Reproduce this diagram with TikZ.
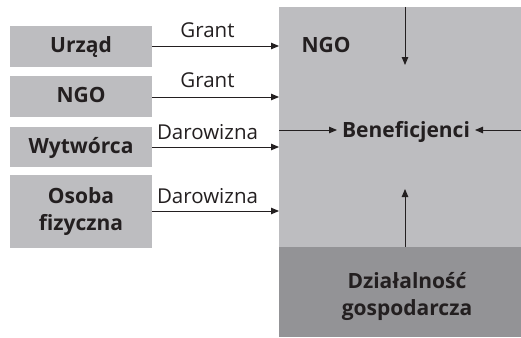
\documentclass[tikz,border=0pt]{standalone}
\usepackage{fontspec}
\setmainfont{Open Sans}
\usetikzlibrary{arrows.meta}
\definecolor{lg}{RGB}{189,189,192}
\definecolor{dg}{RGB}{147,147,150}
\definecolor{tx}{RGB}{35,31,32}
\begin{document}
\begin{tikzpicture}[x=1pt,y=-1pt,
  box/.style={fill=lg,draw=none,inner sep=0pt,minimum width=142},
  bt/.style={text=tx,font=\fontsize{21}{27}\selectfont\bfseries,align=center,inner sep=0pt,anchor=base},
  lbl/.style={text=tx,font=\fontsize{20.5}{24}\selectfont,inner sep=0pt,anchor=base},
  arr/.style={draw=tx,line width=0.9pt,-{Triangle[length=8pt,width=6.5pt]}}]
\useasboundingbox (0,0) rectangle (521,337);
% big areas
\fill[lg] (279,7) rectangle (521,247);
\fill[dg] (279,247) rectangle (521,337);
% source boxes
\node[box,minimum height=41] (urz) at (81,46.5) {};
\node[box,minimum height=41] (ngo) at (81,96.5) {};
\node[box,minimum height=40] (wyt) at (81,147) {};
\node[box,minimum height=73] (oso) at (81,211.5) {};
\node[bt] (turz) at (81,52.5) {Urząd};
\node[bt] (tngo) at (81,102.5) {NGO};
\node[bt] (twyt) at (81,153) {Wytwórca};
\node[bt] (toso) at (81,230.5) {Osoba\\fizyczna};
% targets
\coordinate (t1) at (279,46);
\coordinate (t2) at (279,97);
\coordinate (t3) at (279,147);
\coordinate (t4) at (279,211);
\draw[arr] (urz.east |- t1) -- (t1);
\draw[arr] (ngo.east |- t2) -- (t2);
\draw[arr] (wyt.east |- t3) -- (t3);
\draw[arr] (oso.east |- t4) -- (t4);
\node[lbl] (g1) at (207.5,37.5) {Grant};
\node[lbl] (g2) at (207.5,87.5) {Grant};
\node[lbl] (d1) at (207.5,139) {Darowizna};
\node[lbl] (d2) at (207.5,203) {Darowizna};
% inside
\node[bt] (ngoin) at (326,52.5) {NGO};
\node[bt] (ben) at (406,137.5) {Beneficjenci};
\node[bt] (dzi) at (407,315) {Działalność\\gospodarcza};
\coordinate (top) at (405,7);
\coordinate (topend) at (405,65);
\coordinate (left) at (279,130);
\coordinate (lend) at (337,130);
\coordinate (right) at (521,130);
\coordinate (rend) at (475,130);
\coordinate (bot) at (405,247);
\coordinate (botend) at (405,189);
\draw[arr] (top) -- (topend);
\draw[arr] (left) -- (lend);
\draw[arr] (right) -- (rend);
\draw[arr] (bot) -- (botend);
\end{tikzpicture}
\end{document}
